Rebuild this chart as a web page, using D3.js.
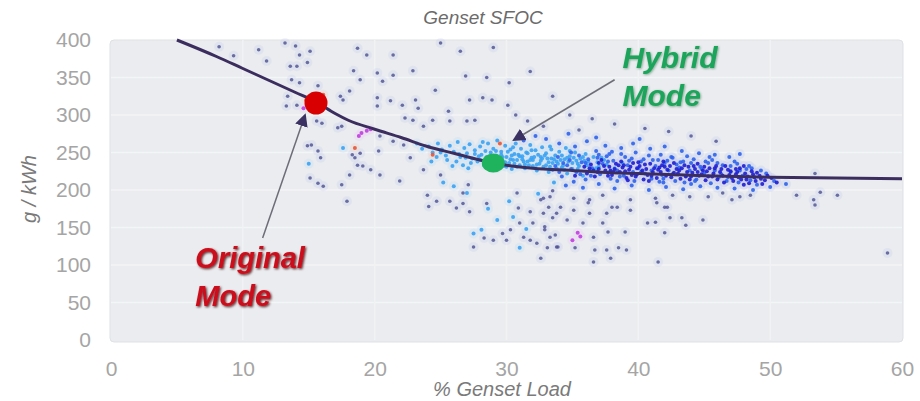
<!DOCTYPE html>
<html>
<head>
<meta charset="utf-8">
<script src="https://cdn.jsdelivr.net/npm/d3@7"></script>
<style>
  body { margin: 0; background: #fff; }
  svg { display: block; font-family: "Liberation Sans", Arial, sans-serif; }
</style>
</head>
<body>
<div id="chart"></div>
<script>
// fitted SFOC curve
var curveX = [5, 8, 10, 12, 14, 15.5, 17, 18, 20, 22, 24, 26, 28, 29, 30, 32, 35, 38, 40, 45, 50, 55, 60];
var curveY = [400, 378, 362, 346, 330, 318, 302, 293, 281, 270, 258, 249, 240, 236, 233, 229, 226, 223, 222, 219, 217, 216, 215];

var xTicks = [0, 10, 20, 30, 40, 50, 60];
var yTicks = [0, 50, 100, 150, 200, 250, 300, 350, 400];

// scatter points [load %, g/kWh], grouped by colour
var slatePts = [[8.2,391],[9.3,379],[11.2,387],[11.8,372],[13.2,396],[14.0,392],[14.3,380],[15.1,385],[13.6,365],[14.1,365],[14.9,370],[13.7,347],[14.3,343],[13.4,325],[13.3,312],[14.1,313],[15.7,339],[15.6,292],[16.0,289],[14.9,259],[15.2,260],[15.7,252],[15.9,243],[15.1,216],[15.7,209],[16.1,205],[17.5,207],[17.9,185],[18.1,220],[17.5,285],[17.6,320],[17.4,325],[18.1,332],[18.4,359],[18.9,347],[18.7,389],[18.5,243],[19.1,232],[18.7,233],[17.2,283],[18.9,249],[18.3,247],
  [19.4,380],[21.4,380],[22.9,359],[20.2,356],[20.6,345],[21.4,353],[25.0,396],[26.5,385],[24.6,333],[20.2,323],[20.2,312],[21.2,319],[22.1,313],[23.1,320],[23.3,309],[27.2,320],[28.2,323],[28.9,320],[30.1,313],[22.3,296],[22.9,293],[24.4,293],[25.6,305],[25.7,292],[27.0,292],[27.6,293],[31.6,292],[32.8,285],[23.7,285],[20.4,272],[21.4,265],[22.2,260],[20.3,252],[22.7,243],[23.7,227],[25.0,220],[21.9,212],[20.4,220],[19.7,227],[24.0,193],[24.7,185],[25.7,185],[26.7,196],[27.1,207],[30.8,196],[32.8,189],[33.5,199],
  [26.2,176],[24.1,178],[26.7,182],[27.2,171],[28.5,182],[28.3,136],[29.0,133],[29.7,142],[30.0,133],[27.5,124],[30.3,147],[30.9,176],[31.0,156],[31.3,137],[31.8,171],[32.0,156],[31.8,133],[32.3,129],[32.6,187],[32.8,169],[32.9,147],[33.1,123],[33.2,177],[33.5,163],[33.7,140],[33.9,124],[33.3,191],[32.6,109],
  [33.8,169],[32.9,151],[33.3,137],[33.8,124],[34.6,160],[35.1,173],[35.2,123],[35.8,156],[36.3,169],[36.2,183],[36.6,137],[36.7,120],[36.6,104],[37.3,156],[37.6,169],[37.7,144],[37.6,120],[37.9,109],[38.4,177],[38.5,123],[39.0,144],[39.1,120],[39.4,173],[40.7,156],[41.3,157],[41.5,104],[42.0,143],[42.4,163],[42.0,177],[41.4,183],[43.3,163],[43.6,153],[44.9,160],
  [34.1,177],[35.1,189],[36.3,187],[37.3,193],[38.0,177],[39.4,187],[41.3,189],[42.2,177],[42.6,193],[43.9,191],[45.3,191],[46.4,196],[47.1,187],[47.7,191],[48.5,193],
  [53.4,222],[52.0,193],[53.3,187],[53.4,180],[55.1,193],[53.8,197],[58.9,116],
  [29.0,390],[28.5,350],[26.9,352],[30.2,343],[31.8,358],[33.5,325],[34.8,300],[36.5,295],[38.2,288],[35.5,280],[30.7,300],[40.5,282],[42.3,278],[44.0,272],[45.9,265]];

var lightBluePts = [[23.2,262],[23.6,255],[24.1,258],[24.4,250],[24.8,262],[25.1,254],[25.4,246],[25.7,259],[26.0,251],[26.3,264],[26.5,244],[26.8,256],[27.0,249],[27.2,261],[27.4,242],[27.6,253],[27.8,238],[28.0,258],[28.1,247],[28.3,233],[28.4,252],[28.6,262],[28.7,241],[28.9,229],[29.0,255],[29.2,246],[29.3,266],[29.5,238],[29.6,251],[29.8,232],[29.9,259],[30.0,244],[30.2,236],[30.3,254],[30.4,228],[30.6,248],[30.7,262],[30.8,240],[31.0,233],[31.1,255],[31.2,245],[31.4,229],[31.5,250],[31.6,238],[31.8,260],[31.9,243],[32.0,232],[32.2,253],[32.3,226],[32.4,247],[32.6,239],[32.7,257],[32.8,231],[33.0,249],[33.1,242],[33.2,224],[33.4,254],[33.5,236],[33.7,246],[33.8,229],[34.0,251],[34.1,240],[34.3,233],[34.5,256],[34.6,222],[34.8,245],[35.0,236],[35.2,250],[35.4,228],[35.6,242],[35.8,219],[36.0,248],
  [27.3,236],[27.9,245],[28.2,264],[28.8,250],[29.1,240],[29.4,233],[29.7,244],[30.1,251],[30.5,240],[30.9,247],[31.3,238],[31.7,233],[32.1,244],[32.5,235],[32.9,246],[33.3,231],[33.6,241],[34.2,246],[34.4,227],[34.7,238],[35.1,243],[35.5,232],[35.9,239],[36.3,226],[36.6,244],[37.0,231],[37.4,240],[37.8,224],
  [28.5,244],[29.0,236],[29.9,237],[30.4,246],[30.8,231],[31.2,241],[31.6,249],[32.0,240],[32.3,234],[32.7,242],[33.2,237],[33.9,235],[34.4,241],[35.3,239],[36.1,233],[36.9,237],[37.6,234],[38.2,229],[38.8,236],
  [26.2,238],[26.7,233],[27.1,229],[26.9,243],[25.5,240],[25.9,232],[24.7,244],[24.3,238],
  [28.0,240],[28.4,236],[28.8,243],[29.3,229],[29.6,247],[30.0,231],[30.3,241],[30.6,235],[31.0,245],[31.4,234],[31.8,240],[32.2,229],[32.6,244],[33.0,233],[33.4,242],[33.8,238],[34.2,230],[34.6,243],[35.0,228],[35.4,235],[35.8,244],[36.2,238],[36.8,229],[37.2,243],[29.2,252],[30.5,257],[31.9,253],[33.3,258],[34.8,252],[27.6,248],[26.4,248],[25.0,250],
  [17.6,256],[15.0,235],[27.0,196],[28.6,175],[29.3,160],[30.2,185],[31.5,148],[32.4,195],[33.6,210],[26.0,205],[25.2,210],[27.5,142],[28.1,147],[30.5,164],[31.0,123]];

var bluePts = [[33.5,227],[33.9,244],[34.2,218],[34.6,233],[34.9,250],[35.3,224],[35.7,237],[36.0,214],[36.2,241],[36.5,229],[36.8,252],[37.1,221],[37.3,235],[37.6,245],[37.9,215],[38.1,239],[38.4,226],[38.7,248],[38.9,219],[39.2,233],[39.5,242],[39.7,212],[40.0,229],[40.2,238],[40.5,222],[40.8,246],[41.0,215],[41.3,232],[41.5,240],[41.8,220],[42.0,236],[42.3,226],[42.6,243],[42.8,212],[43.1,230],[43.4,238],[43.6,219],[43.9,226],[44.2,241],[44.4,214],[44.7,231],[45.0,222],[45.3,236],[45.5,209],[45.8,226],[46.1,217],[46.4,233],[46.7,212],[47.0,224],[47.3,238],[47.6,210],[47.9,219],[48.2,228],[48.5,213],
  [33.7,232],[34.3,236],[34.9,228],[35.5,246],[36.4,219],[37.0,247],[37.7,238],[38.4,212],[39.0,244],[39.6,224],[40.4,241],[41.0,226],[41.6,211],[42.2,239],[42.9,234],[43.5,210],[44.0,236],[44.8,228],[45.6,240],[46.3,221],[47.0,232],[47.7,226],[48.4,232],[49.0,207],[49.7,222],[50.3,212],
  [34.0,224],[34.8,240],[35.6,221],[36.0,236],[36.9,243],[37.8,248],[38.6,218],[39.3,239],[40.2,224],[41.1,240],[41.9,215],[42.5,244],[43.2,237],[44.3,212],[45.1,238],[46.0,236],[46.8,217],[47.5,235],[48.6,229],[49.3,226],[38.0,251],[39.8,250],[41.7,247],[43.7,245],[45.4,244],
  [33.0,268],[34.0,262],[35.2,258],[36.1,265],[37.5,259],[38.7,256],[39.6,262],[40.9,255],[42.0,258],[43.3,252],[44.6,249],[45.8,247],[46.9,244],[47.7,248],[36.8,270],[32.2,272],[31.3,266],[40.1,268],[34.7,275],
  [34.5,206],[35.8,203],[37.0,208],[38.2,202],[39.5,206],[40.8,200],[42.1,204],[43.4,201],[44.7,205],[46.0,203],[47.3,202],[48.7,200],[50.0,204],[51.2,208],[35.1,211],[41.9,210],[44.0,208]];

var deepBluePts = [[36.1,222],[36.4,234],[36.7,218],[37.0,228],[37.2,240],[37.5,226],[37.8,231],[38.0,220],[38.3,235],[38.6,224],[38.8,230],[39.1,216],[39.3,227],[39.6,236],[39.9,221],[40.1,232],[40.4,214],[40.6,228],[40.9,235],[41.1,224],[41.4,216],[41.6,230],[41.9,238],[42.1,219],[42.4,232],[42.7,223],[42.9,228],[43.2,215],[43.5,233],[43.7,224],[44.0,218],[44.3,228],[44.5,235],[44.8,221],[45.1,213],[45.4,229],[45.6,218],[45.9,232],[46.2,224],[46.5,210],[46.8,227],[47.1,216],[47.4,221],[47.7,229],[48.0,207],[48.3,218],[48.6,225],[48.9,212],[49.2,219],[49.6,213],[50.1,216],[50.5,210],
  [36.3,229],[36.9,224],[37.4,232],[37.7,219],[38.2,228],[38.5,233],[39.0,225],[39.4,231],[39.8,218],[40.3,226],[40.7,220],[41.2,229],[41.7,224],[42.2,227],[42.5,217],[43.0,222],[43.3,229],[43.8,231],[44.1,223],[44.6,219],[45.2,225],[45.7,222],[46.0,214],[46.3,228],[46.9,220],[47.2,212],[47.5,224],[47.8,214],[48.1,222],[48.4,209],[48.8,217],[49.0,223],[49.4,208],
  [38.1,224],[38.9,233],[39.5,220],[39.9,229],[40.5,234],[41.0,219],[41.5,227],[42.0,231],[42.6,221],[43.1,226],[43.6,218],[44.2,232],[44.9,226],[45.3,218],[45.8,229],[46.4,219],[47.0,225],[47.6,217],[48.2,214],[48.7,221],[49.3,215],[49.8,219],[37.0,236],[37.9,226],[38.7,238],[39.2,213],[40.0,237],[40.8,212],[41.8,233],[42.7,236],[43.9,214],[44.5,224],[45.0,231],[46.6,232],[47.4,228],[48.0,232],[36.6,226],[35.9,231],[35.2,219]];

var magentaPts = [[19.0,276],[19.4,279],[18.8,272],[19.7,281],[35.4,143],[35.0,133],[35.6,138],[14.6,309]];
var warmPts = [[18.5,256],[24.4,247],[16.1,327],[14.8,320],[29.5,262]];

// operating points
var originalPt = [15.55, 316];
var hybridPt = [29, 236];

var margin = {top: 40, right: 18, bottom: 61, left: 111},
    width = 920 - margin.left - margin.right,
    height = 401 - margin.top - margin.bottom;

var svg = d3.select("#chart")
    .append("svg")
    .attr("width", 920)
    .attr("height", 401);

var defs = svg.append("defs");
defs.append("filter").attr("id", "shadowRed")
    .append("feDropShadow").attr("dx", 1.2).attr("dy", 1.2).attr("stdDeviation", 0.8)
    .attr("flood-color", "#3a0000").attr("flood-opacity", 0.8);
defs.append("filter").attr("id", "shadowGreen")
    .append("feDropShadow").attr("dx", 0.8).attr("dy", 0.8).attr("stdDeviation", 1)
    .attr("flood-color", "#0b5a2c").attr("flood-opacity", 0.5);
defs.append("marker").attr("id", "arrowHead")
    .attr("viewBox", "0 0 10 10").attr("refX", 8).attr("refY", 5)
    .attr("markerWidth", 13).attr("markerHeight", 13)
    .attr("markerUnits", "userSpaceOnUse")
    .attr("orient", "auto")
    .append("path").attr("d", "M0,0 L10,5 L0,10 Z").attr("fill", "#3b3263");

var x = d3.scaleLinear().domain([0, 60]).range([margin.left, margin.left + width]);
var y = d3.scaleLinear().domain([0, 400]).range([margin.top + height, margin.top]);

// plot background
svg.append("rect")
    .attr("x", x(0) - 1).attr("y", y(400))
    .attr("width", x(60) - x(0) + 2).attr("height", y(0) - y(400) + 2)
    .attr("rx", 4)
    .attr("fill", "#eaecef")
    .attr("stroke", "#dfe1e4");

// gridlines
svg.append("g").selectAll("line")
    .data(yTicks.slice(1, -1))
    .enter().append("line")
    .attr("x1", x(0)).attr("x2", x(60))
    .attr("y1", function (d) { return y(d); })
    .attr("y2", function (d) { return y(d); })
    .attr("stroke", "#f4f5f7").attr("stroke-width", 1.5);
svg.append("g").selectAll("line")
    .data(xTicks.slice(1, -1))
    .enter().append("line")
    .attr("y1", y(0)).attr("y2", y(400))
    .attr("x1", function (d) { return x(d); })
    .attr("x2", function (d) { return x(d); })
    .attr("stroke", "#f1f2f4").attr("stroke-width", 1.5);

// axes
var yAxis = svg.append("g")
    .attr("transform", "translate(" + x(0) + ",0)")
    .call(d3.axisLeft(y).tickValues(yTicks).tickSize(0).tickPadding(20));
var xAxis = svg.append("g")
    .attr("transform", "translate(0," + y(0) + ")")
    .call(d3.axisBottom(x).tickValues(xTicks).tickSize(0).tickPadding(21));
[xAxis, yAxis].forEach(function (g) {
    g.select(".domain").remove();
    g.selectAll("text")
        .attr("fill", "#a5a5a5")
        .style("font-size", "21px")
        .style("font-family", "'Liberation Sans', Arial, sans-serif");
});

// titles
svg.append("text")
    .attr("x", 483).attr("y", 24)
    .attr("text-anchor", "middle")
    .style("font-size", "19px").style("font-style", "italic")
    .attr("fill", "#6b6b6b")
    .text("Genset SFOC");
svg.append("text")
    .attr("x", 502).attr("y", 396)
    .attr("text-anchor", "middle")
    .style("font-size", "20px").style("font-style", "italic")
    .attr("fill", "#7a7a7a")
    .text("% Genset Load");
svg.append("text")
    .attr("transform", "translate(36,189) rotate(-90)")
    .attr("text-anchor", "middle")
    .style("font-size", "20px").style("font-style", "italic")
    .attr("fill", "#7a7a7a")
    .text("g / kWh");

// scatter
var groups = [
    {pts: slatePts, color: "#4c4f8e", halo: "#b4bdf0", r: 1.8, op: 0.8},
    {pts: lightBluePts, color: "#3aa2f2", halo: "#a6d6fb", r: 2, op: 0.9},
    {pts: bluePts, color: "#2f63ec", halo: "#9fb5f6", r: 2, op: 0.9},
    {pts: deepBluePts, color: "#1d1dd0", halo: "#9a9cf0", r: 2, op: 0.9},
    {pts: magentaPts, color: "#c03ee0", halo: "#ebb8f6", r: 2, op: 0.9},
    {pts: warmPts, color: "#e6553a", halo: "#f6c0a8", r: 2, op: 0.9}
];
var haloLayer = svg.append("g").attr("opacity", 0.35);
var dotLayer = svg.append("g");
groups.forEach(function (grp) {
    haloLayer.selectAll(null)
        .data(grp.pts)
        .enter().append("circle")
        .attr("cx", function (d) { return x(d[0]); })
        .attr("cy", function (d) { return y(d[1]); })
        .attr("r", 5)
        .attr("fill", grp.halo)
        .attr("opacity", 0.5);
    dotLayer.selectAll(null)
        .data(grp.pts)
        .enter().append("circle")
        .attr("cx", function (d) { return x(d[0]); })
        .attr("cy", function (d) { return y(d[1]); })
        .attr("r", grp.r)
        .attr("fill", grp.color)
        .attr("opacity", grp.op);
});

// SFOC curve
var curveData = curveX.map(function (d, i) { return [d, curveY[i]]; });
svg.append("path")
    .datum(curveData)
    .attr("d", d3.line()
        .x(function (d) { return x(d[0]); })
        .y(function (d) { return y(d[1]); })
        .curve(d3.curveMonotoneX))
    .attr("fill", "none")
    .attr("stroke", "#3b2d5e")
    .attr("stroke-width", 3);

// operating points
svg.append("circle")
    .attr("cx", x(originalPt[0])).attr("cy", y(originalPt[1]))
    .attr("r", 11.5)
    .attr("fill", "#d80000");
svg.append("ellipse")
    .attr("cx", x(hybridPt[0])).attr("cy", y(hybridPt[1]))
    .attr("rx", 11.5).attr("ry", 9.5)
    .attr("fill", "#1fb35e");

// annotation arrows
var arrows = [
    {from: [11.5, 136], to: [14.7, 299]},
    {from: [38.2, 347], to: [30.6, 267]}
];
svg.append("g").selectAll("line")
    .data(arrows)
    .enter().append("line")
    .attr("x1", function (d) { return x(d.from[0]); })
    .attr("y1", function (d) { return y(d.from[1]); })
    .attr("x2", function (d) { return x(d.to[0]); })
    .attr("y2", function (d) { return y(d.to[1]); })
    .attr("stroke", "#6d6d78")
    .attr("stroke-width", 1.5)
    .attr("marker-end", "url(#arrowHead)");

// annotation labels
var orig = svg.append("text")
    .attr("x", x(6.4)).attr("y", y(96))
    .style("font-size", "29px").style("font-weight", "bold").style("font-style", "italic")
    .attr("fill", "#cc0f1c")
    .attr("filter", "url(#shadowRed)");
orig.append("tspan").attr("x", x(6.4)).text("Original");
orig.append("tspan").attr("x", x(6.4)).attr("dy", 38).text("Mode");

var hyb = svg.append("text")
    .attr("x", x(38.8)).attr("y", y(363))
    .style("font-size", "30px").style("font-weight", "bold").style("font-style", "italic")
    .attr("fill", "#1aa55a")
    .attr("filter", "url(#shadowGreen)");
hyb.append("tspan").attr("x", x(38.8)).text("Hybrid");
hyb.append("tspan").attr("x", x(38.8)).attr("dy", 38).text("Mode");
</script>
</body>
</html>
